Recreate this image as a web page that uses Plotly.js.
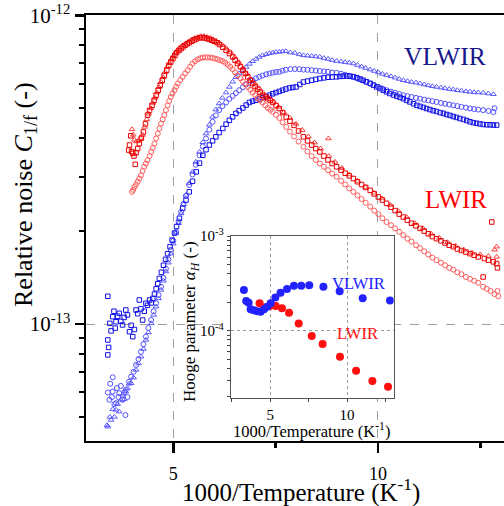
<!DOCTYPE html>
<html>
<head>
<meta charset="utf-8">
<script src="https://cdn.plot.ly/plotly-3.0.1.min.js"></script>
<style>html,body{margin:0;padding:0;background:#fff}#chart{width:504px;height:506px}</style>
</head>
<body>
<div id="chart"></div>
<script>
// ---- main panel: relative noise C_1/f (in units of 1e-13) vs 1000/T ----
const lwirSqX = [3.91,3.93,3.96,3.98,4.01,4.04,4.07,4.09,4.13,4.17,4.22,4.27,4.32,4.37,4.42,4.48,4.53,4.58,4.63,4.68,4.73,4.78,4.84,4.89,4.94,4.99,5.04,5.08,5.14,5.19,5.24,5.29,5.34,5.39,5.45,5.51,5.57,5.64,5.70,5.76,5.82,5.88,5.94,6.00,6.07,6.13,6.21,6.29,6.37,6.45,6.51,6.57,6.64,6.70,6.76,6.82,6.88,6.94,7.00,7.06,7.12,7.18,7.25,7.31,7.37,7.43,7.51,7.59,7.67,7.76,7.85,7.95,8.06,8.18,8.28,8.38,8.48,8.58,8.68,8.78,8.88,8.99,9.10,9.20,9.30,9.40,9.50,9.60,9.70,9.81,9.91,10.01,10.11,10.21,10.32,10.42,10.52,10.62,10.72,10.82,10.93,11.03,11.13,11.23,11.33,11.43,11.54,11.64,11.74,11.84,11.94,12.04,12.15,12.25,12.35,12.45,12.57,12.60,12.70,12.78,12.82,12.90,12.92];
const lwirSqY = [3.66,3.80,4.07,3.62,3.57,3.50,3.29,3.59,3.70,3.84,4.00,4.19,4.45,4.75,4.92,5.11,5.30,5.51,5.72,5.94,6.16,6.39,6.64,6.89,7.06,7.24,7.41,7.57,7.69,7.80,7.90,8.00,8.08,8.15,8.24,8.32,8.39,8.45,8.47,8.45,8.41,8.36,8.30,8.24,8.15,8.04,7.88,7.70,7.52,7.33,7.15,6.98,6.81,6.64,6.48,6.32,6.16,6.01,5.88,5.76,5.63,5.51,5.44,5.37,5.30,5.22,5.10,4.99,4.84,4.68,4.54,4.40,4.22,4.04,3.92,3.80,3.70,3.61,3.50,3.40,3.31,3.23,3.15,3.08,3.02,2.96,2.89,2.83,2.77,2.71,2.64,2.58,2.52,2.46,2.39,2.33,2.27,2.22,2.17,2.12,2.08,2.04,2.00,1.96,1.92,1.89,1.86,1.83,1.80,1.78,1.75,1.73,1.71,1.69,1.67,1.65,1.42,1.63,1.61,2.14,1.59,1.57,1.52];
const lwirTriX = [3.99,4.02,4.05,4.10,4.15,4.20,4.25,4.30,4.35,4.40,4.45,4.50,4.55,4.60,4.65,4.70,4.75,4.80,4.85,4.90,4.95,5.00,5.05,5.10,5.15,5.22,5.30,5.37,5.45,5.52,5.60,5.67,5.75,5.82,5.90,5.97,6.05,6.12,6.20,6.30,6.40,6.50,6.60,6.70,6.80,6.90,7.00,7.10,7.20,7.32,7.45,7.57,7.70,7.85,8.00,8.15,8.30,8.45,8.60,8.79,8.80,8.95,9.12,9.30,9.50,9.70,9.90,10.10,10.30,10.50,10.70,10.90,11.10,11.30,11.50,11.70,11.90,12.10,12.30,12.50,12.70,12.90,12.90,12.85];
const lwirTriY = [4.27,4.10,3.95,3.90,3.92,4.00,4.10,4.35,4.60,4.80,5.00,5.20,5.40,5.62,5.85,6.08,6.30,6.55,6.80,7.00,7.20,7.38,7.55,7.70,7.85,7.98,8.10,8.22,8.35,8.44,8.50,8.56,8.55,8.50,8.45,8.36,8.25,8.14,8.00,7.80,7.60,7.32,7.05,6.75,6.45,6.20,6.00,5.80,5.60,5.43,5.25,5.05,4.85,4.65,4.45,4.25,4.05,3.87,3.70,3.99,3.50,3.35,3.20,3.05,2.91,2.78,2.66,2.55,2.43,2.32,2.22,2.12,2.04,1.96,1.90,1.84,1.79,1.74,1.70,1.68,1.66,1.65,1.78,1.74];
const lwirCirX = [3.99,4.02,4.05,4.09,4.13,4.17,4.21,4.25,4.29,4.33,4.37,4.42,4.46,4.50,4.54,4.58,4.62,4.66,4.70,4.74,4.78,4.82,4.86,4.90,4.94,4.98,5.03,5.07,5.11,5.17,5.23,5.29,5.35,5.41,5.47,5.53,5.60,5.66,5.72,5.78,5.84,5.90,5.96,6.02,6.08,6.15,6.21,6.27,6.33,6.39,6.45,6.51,6.57,6.64,6.70,6.76,6.82,6.88,6.94,7.00,7.06,7.12,7.18,7.25,7.31,7.37,7.43,7.51,7.59,7.67,7.76,7.85,7.95,8.06,8.18,8.28,8.38,8.48,8.58,8.68,8.78,8.88,8.99,9.10,9.20,9.30,9.40,9.50,9.60,9.70,9.81,9.91,10.01,10.11,10.21,10.32,10.42,10.52,10.62,10.72,10.82,10.93,11.03,11.13,11.23,11.33,11.43,11.54,11.64,11.74,11.84,11.94,12.04,12.15,12.25,12.35,12.45,12.57,12.66,12.75,12.85,12.94,12.92];
const lwirCirY = [2.68,2.72,2.78,2.83,2.89,2.96,3.03,3.13,3.23,3.31,3.39,3.50,3.61,3.72,3.84,3.99,4.14,4.30,4.46,4.60,4.75,4.93,5.11,5.28,5.44,5.58,5.72,5.87,6.01,6.17,6.32,6.48,6.64,6.81,6.98,7.10,7.20,7.26,7.30,7.31,7.30,7.30,7.28,7.24,7.20,7.15,7.10,7.02,6.92,6.81,6.69,6.54,6.39,6.25,6.11,5.98,5.86,5.74,5.62,5.51,5.40,5.31,5.22,5.11,5.01,4.94,4.87,4.76,4.65,4.50,4.35,4.20,4.05,3.90,3.75,3.62,3.50,3.40,3.31,3.23,3.15,3.07,3.00,2.91,2.83,2.75,2.68,2.61,2.54,2.47,2.40,2.33,2.27,2.20,2.14,2.09,2.04,1.99,1.94,1.89,1.85,1.80,1.76,1.72,1.68,1.64,1.61,1.58,1.55,1.52,1.50,1.47,1.45,1.42,1.40,1.38,1.36,1.32,1.30,1.28,1.25,1.23,1.28];

const vlwirSqX = [3.40,3.40,3.40,3.42,3.45,3.48,3.52,3.55,3.58,3.60,3.64,3.68,3.72,3.76,3.80,3.84,3.88,3.93,3.97,4.01,4.05,4.09,4.13,4.17,4.21,4.25,4.29,4.33,4.37,4.42,4.46,4.50,4.54,4.58,4.62,4.66,4.71,4.76,4.81,4.86,4.92,4.97,5.03,5.08,5.15,5.23,5.31,5.39,5.47,5.56,5.64,5.72,5.80,5.88,5.96,6.04,6.12,6.21,6.29,6.37,6.45,6.53,6.61,6.70,6.78,6.86,6.94,7.02,7.10,7.18,7.27,7.35,7.43,7.51,7.59,7.67,7.75,7.84,7.92,8.00,8.09,8.18,8.28,8.38,8.48,8.58,8.68,8.78,8.88,8.99,9.07,9.15,9.24,9.32,9.40,9.48,9.56,9.64,9.72,9.81,9.89,9.97,10.05,10.13,10.21,10.29,10.38,10.46,10.54,10.62,10.70,10.78,10.87,10.95,11.03,11.11,11.19,11.27,11.35,11.43,11.52,11.60,11.68,11.76,11.84,11.92,12.00,12.09,12.17,12.25,12.33,12.41,12.49,12.57,12.66,12.74,12.82,12.90];
const vlwirSqY = [1.23,0.794,0.888,0.84,1.005,0.95,1.056,1.10,0.97,1.017,1.06,1.083,1.02,0.993,1.05,1.11,1.07,0.944,0.99,0.910,0.96,1.11,1.08,1.196,1.12,1.03,1.10,1.167,1.15,1.196,1.17,1.21,1.25,1.30,1.35,1.405,1.47,1.55,1.62,1.69,1.78,1.87,1.97,2.07,2.20,2.37,2.52,2.68,2.90,3.11,3.32,3.52,3.67,3.80,3.92,4.04,4.17,4.30,4.44,4.57,4.69,4.81,4.91,5.01,5.12,5.22,5.27,5.31,5.36,5.40,5.46,5.51,5.57,5.62,5.67,5.72,5.77,5.82,5.84,5.86,5.97,6.08,6.12,6.16,6.20,6.24,6.27,6.30,6.31,6.32,6.34,6.35,6.36,6.35,6.32,6.28,6.22,6.16,6.09,6.02,5.94,5.86,5.79,5.72,5.65,5.58,5.52,5.47,5.42,5.37,5.30,5.24,5.17,5.11,5.07,5.03,4.99,4.95,4.91,4.88,4.84,4.81,4.77,4.74,4.70,4.67,4.63,4.60,4.56,4.52,4.49,4.47,4.45,4.43,4.42,4.42,4.41,4.41];
const vlwirCirX = [3.40,3.44,3.46,3.50,3.52,3.52,3.56,3.60,3.62,3.66,3.68,3.72,3.76,3.80,3.83,3.84,3.88,3.92,3.97,4.03,4.09,4.15,4.21,4.27,4.33,4.39,4.46,4.52,4.58,4.64,4.70,4.76,4.82,4.88,4.94,5.00,5.07,5.13,5.19,5.25,5.31,5.39,5.47,5.55,5.64,5.72,5.80,5.88,5.96,6.04,6.12,6.20,6.29,6.37,6.45,6.53,6.61,6.70,6.78,6.86,6.94,7.02,7.10,7.18,7.27,7.35,7.43,7.51,7.59,7.67,7.75,7.86,7.97,8.08,8.18,8.28,8.38,8.48,8.58,8.68,8.78,8.88,8.99,9.10,9.20,9.30,9.40,9.50,9.60,9.70,9.81,9.91,10.01,10.11,10.21,10.32,10.42,10.52,10.62,10.72,10.82,10.93,11.03,11.13,11.23,11.33,11.43,11.54,11.64,11.74,11.84,11.94,12.04,12.15,12.25,12.35,12.45,12.57,12.70,12.82,12.85];
const vlwirCirY = [0.60,0.568,0.64,0.58,0.604,0.672,0.55,0.554,0.62,0.58,0.597,0.63,0.568,0.60,0.507,0.612,0.58,0.65,0.675,0.70,0.737,0.77,0.813,0.86,0.910,0.97,1.03,1.10,1.167,1.24,1.32,1.41,1.51,1.62,1.74,1.86,1.99,2.15,2.31,2.45,2.60,2.82,3.05,3.28,3.52,3.76,3.99,4.26,4.52,4.74,4.93,5.08,5.22,5.36,5.48,5.60,5.72,5.85,5.97,6.07,6.16,6.25,6.32,6.38,6.44,6.48,6.52,6.55,6.56,6.62,6.66,6.69,6.70,6.69,6.67,6.66,6.64,6.62,6.60,6.58,6.56,6.53,6.51,6.47,6.42,6.37,6.32,6.25,6.17,6.09,6.01,5.93,5.86,5.79,5.72,5.66,5.61,5.56,5.51,5.47,5.44,5.40,5.37,5.33,5.30,5.27,5.24,5.20,5.17,5.14,5.11,5.08,5.05,5.02,4.99,4.97,4.95,4.93,4.90,4.86,5.00];
const vlwirTriX = [3.38,3.40,3.45,3.48,3.52,3.56,3.60,3.64,3.68,3.72,3.76,3.80,3.84,3.88,3.92,3.97,4.03,4.09,4.15,4.21,4.27,4.33,4.39,4.46,4.52,4.58,4.64,4.70,4.76,4.82,4.88,4.94,5.00,5.07,5.13,5.19,5.25,5.31,5.39,5.47,5.55,5.64,5.72,5.80,5.88,5.96,6.04,6.12,6.20,6.29,6.37,6.45,6.53,6.61,6.70,6.78,6.86,6.94,7.02,7.10,7.18,7.27,7.35,7.43,7.51,7.59,7.67,7.75,7.86,7.97,8.08,8.18,8.28,8.38,8.48,8.58,8.68,8.78,8.88,8.99,9.10,9.20,9.30,9.40,9.50,9.60,9.70,9.81,9.91,10.01,10.11,10.21,10.32,10.42,10.52,10.62,10.72,10.82,10.93,11.03,11.13,11.23,11.33,11.43,11.54,11.64,11.74,11.84,11.94,12.04,12.15,12.25,12.35,12.45,12.57,12.70,12.82];
const vlwirTriY = [0.47,0.465,0.50,0.489,0.53,0.50,0.527,0.55,0.52,0.568,0.59,0.57,0.604,0.62,0.64,0.643,0.67,0.71,0.745,0.784,0.83,0.888,0.94,1.005,1.07,1.138,1.21,1.29,1.38,1.48,1.58,1.69,1.82,1.97,2.12,2.28,2.44,2.62,2.86,3.11,3.35,3.61,3.88,4.14,4.42,4.69,4.95,5.18,5.40,5.62,5.86,6.09,6.30,6.48,6.65,6.80,6.96,7.10,7.22,7.33,7.42,7.48,7.53,7.57,7.60,7.61,7.64,7.65,7.58,7.55,7.47,7.42,7.40,7.38,7.36,7.33,7.27,7.22,7.16,7.11,7.08,7.05,7.02,6.98,6.90,6.82,6.75,6.67,6.60,6.53,6.46,6.40,6.34,6.28,6.22,6.16,6.12,6.08,6.05,6.01,5.97,5.93,5.89,5.86,5.83,5.80,5.77,5.75,5.72,5.70,5.67,5.65,5.63,5.62,5.61,5.58,5.55];

// ---- inset: Hooge parameter alpha_H vs 1000/T ----
const insetVlwirX = [3.28,3.43,3.59,3.72,3.93,4.15,4.37,4.59,4.80,5.02,5.33,5.67,6.09,6.54,7.02,7.54,8.46,9.52,11.02,12.80];
const insetVlwirY = [2.69e-4,2.06e-4,1.98e-4,1.69e-4,1.65e-4,1.61e-4,1.59e-4,1.69e-4,1.79e-4,1.95e-4,2.25e-4,2.52e-4,2.76e-4,2.99e-4,2.99e-4,3.03e-4,2.92e-4,2.62e-4,2.21e-4,2.09e-4];
const insetLwirX = [4.30,4.59,4.96,5.35,5.76,6.22,6.85,7.70,8.41,9.54,10.59,11.65,12.67];
const insetLwirY = [1.95e-4,1.76e-4,1.82e-4,1.82e-4,1.73e-4,1.55e-4,1.19e-4,8.79e-5,7.23e-5,5.31e-5,3.78e-5,2.94e-5,2.56e-5];

// tick values and labels
const mainTickVals = [1e-13, 1e-12];
const mainTickText = ['10<sup>-13</sup>', '10<sup>-12</sup>'];
const insetTickVals = [1e-4, 1e-3];
const insetTickText = ['10<sup>-4</sup>', '10<sup>-3</sup>'];

const UNIT = 1e-13;
const scale = a => a.map(v => v * UNIT);
const FONT = 'Liberation Serif, Times New Roman, serif';

function open(x, y, sym, color, size) {
  return {x: x, y: scale(y), type: 'scatter', mode: 'markers', xaxis: 'x', yaxis: 'y',
    marker: {symbol: sym, size: size, color: color, line: {width: 1, color: color}},
    hoverinfo: 'skip', showlegend: false};
}

const data = [
  open(vlwirTriX, vlwirTriY, 'triangle-up-open', '#5a5aff', 5),
  open(vlwirCirX, vlwirCirY, 'circle-open', '#5050ff', 5),
  open(vlwirSqX, vlwirSqY, 'square-open', '#1010e8', 4.5),
  open(lwirTriX, lwirTriY, 'triangle-up-open', '#ff3c3c', 5),
  open(lwirCirX, lwirCirY, 'circle-open', '#ff5c5c', 5),
  open(lwirSqX, lwirSqY, 'square-open', '#e80000', 4.5),
  {x: insetLwirX, y: insetLwirY, type: 'scatter', mode: 'markers', xaxis: 'x2', yaxis: 'y2',
    marker: {symbol: 'circle', size: 8, color: '#ff1010'}, showlegend: false, hoverinfo: 'skip'},
  {x: insetVlwirX, y: insetVlwirY, type: 'scatter', mode: 'markers', xaxis: 'x2', yaxis: 'y2',
    marker: {symbol: 'circle', size: 8, color: '#2222ff'}, showlegend: false, hoverinfo: 'skip'}
];

const L = 86, T = 15, W = 418, H = 426;
const px = p => (p - L) / W;
const py = p => (T + H - p) / H;

const layout = {
  width: 504, height: 506,
  margin: {l: L, r: 0, t: T, b: 65, pad: 0},
  paper_bgcolor: '#fff', plot_bgcolor: '#fff',
  font: {family: FONT, color: '#000'},
  showlegend: false,
  xaxis: {
    domain: [0, 1], range: [2.867, 13.08], tickmode: 'linear', tick0: 0, dtick: 5,
    ticks: 'outside', ticklen: 10, tickwidth: 2.5, tickcolor: '#000',
    showline: true, linewidth: 2, linecolor: '#000', mirror: true,
    showgrid: true, gridcolor: '#a0a0a0', griddash: 'dash', gridwidth: 1, zeroline: false,
    tickfont: {size: 18, family: FONT}, ticklabelstandoff: 5,
    minor: {tickmode: 'linear', tick0: 0, dtick: 2.5, ticks: 'outside', ticklen: 5, tickwidth: 2.5, tickcolor: '#000', showgrid: false}
  },
  yaxis: {
    domain: [0, 1], type: 'log', range: [-13.379, -11.999], tickmode: 'array', tickvals: mainTickVals, ticktext: mainTickText,
    ticks: 'outside', ticklen: 9, tickwidth: 2.5, tickcolor: '#000',
    showline: true, linewidth: 2.5, linecolor: '#000', mirror: false,
    showgrid: true, gridcolor: '#a0a0a0', griddash: 'dash', gridwidth: 1, zeroline: false,
    tickfont: {size: 21, family: FONT}, ticklabelstandoff: 0,
    minor: {dtick: 'D1', ticks: 'outside', ticklen: 4.5, tickwidth: 2, tickcolor: '#000', showgrid: false}
  },
  xaxis2: {
    anchor: 'y2', domain: [px(230.7), px(393.7)], range: [2.42, 13.04], tickmode: 'linear', tick0: 0, dtick: 5,
    ticks: 'outside', ticklen: 3, tickwidth: 1, tickcolor: '#444',
    showline: true, linewidth: 1, linecolor: '#555', mirror: true,
    showgrid: true, gridcolor: '#999', griddash: 'dot', gridwidth: 1, zeroline: false,
    tickfont: {size: 15, family: FONT}, ticklabelstandoff: 0,
    minor: {tickmode: 'linear', tick0: 0, dtick: 2.5, ticks: 'outside', ticklen: 2.5, tickwidth: 1, tickcolor: '#444', showgrid: false}
  },
  yaxis2: {
    anchor: 'x2', domain: [py(398.3), py(236)], type: 'log', range: [-4.714, -2.999], tickmode: 'array', tickvals: insetTickVals, ticktext: insetTickText,
    ticks: 'outside', ticklen: 3, tickwidth: 1, tickcolor: '#444',
    showline: true, linewidth: 1, linecolor: '#555', mirror: true,
    showgrid: true, gridcolor: '#999', griddash: 'dot', gridwidth: 1, zeroline: false,
    tickfont: {size: 15, family: FONT}, ticklabelstandoff: 0,
    minor: {dtick: 'D1', ticks: 'outside', ticklen: 2.5, tickwidth: 1, tickcolor: '#444', showgrid: false}
  },
  annotations: [
    {xref: 'paper', yref: 'paper', x: px(301), y: py(490), text: '1000/Temperature (K<sup>-1</sup>)', showarrow: false,
      xanchor: 'center', yanchor: 'middle', font: {size: 25, family: FONT, color: '#000'}},
    {xref: 'paper', yref: 'paper', x: px(25), y: py(195), text: 'Relative noise <i>C</i><sub>1/f</sub> (-)', showarrow: false,
      textangle: -90, xanchor: 'center', yanchor: 'middle', font: {size: 26, family: FONT, color: '#000'}},
    {xref: 'paper', yref: 'paper', x: px(445), y: py(57), text: 'VLWIR', showarrow: false,
      xanchor: 'center', yanchor: 'middle', font: {size: 25.5, family: FONT, color: '#17178c'}},
    {xref: 'paper', yref: 'paper', x: px(456), y: py(199.5), text: 'LWIR', showarrow: false,
      xanchor: 'center', yanchor: 'middle', font: {size: 25, family: FONT, color: '#ff0000'}},
    {xref: 'paper', yref: 'paper', x: px(358), y: py(283.5), text: 'VLWIR', showarrow: false,
      xanchor: 'center', yanchor: 'middle', font: {size: 16.5, family: FONT, color: '#2222ff'}},
    {xref: 'paper', yref: 'paper', x: px(357), y: py(333), text: 'LWIR', showarrow: false,
      xanchor: 'center', yanchor: 'middle', font: {size: 16.5, family: FONT, color: '#ff1010'}},
    {xref: 'paper', yref: 'paper', x: px(311), y: py(430), text: '1000/Temperature (K<sup>-1</sup>)', showarrow: false,
      xanchor: 'center', yanchor: 'middle', font: {size: 16.5, family: FONT, color: '#000'}},
    {xref: 'paper', yref: 'paper', x: px(191), y: py(322), text: 'Hooge parameter <i>α</i><sub><i>H</i></sub> (-)', showarrow: false,
      textangle: -90, xanchor: 'center', yanchor: 'middle', font: {size: 17, family: FONT, color: '#000'}}
  ]
};

Plotly.newPlot('chart', data, layout, {displayModeBar: false, staticPlot: true});
</script>
</body>
</html>
